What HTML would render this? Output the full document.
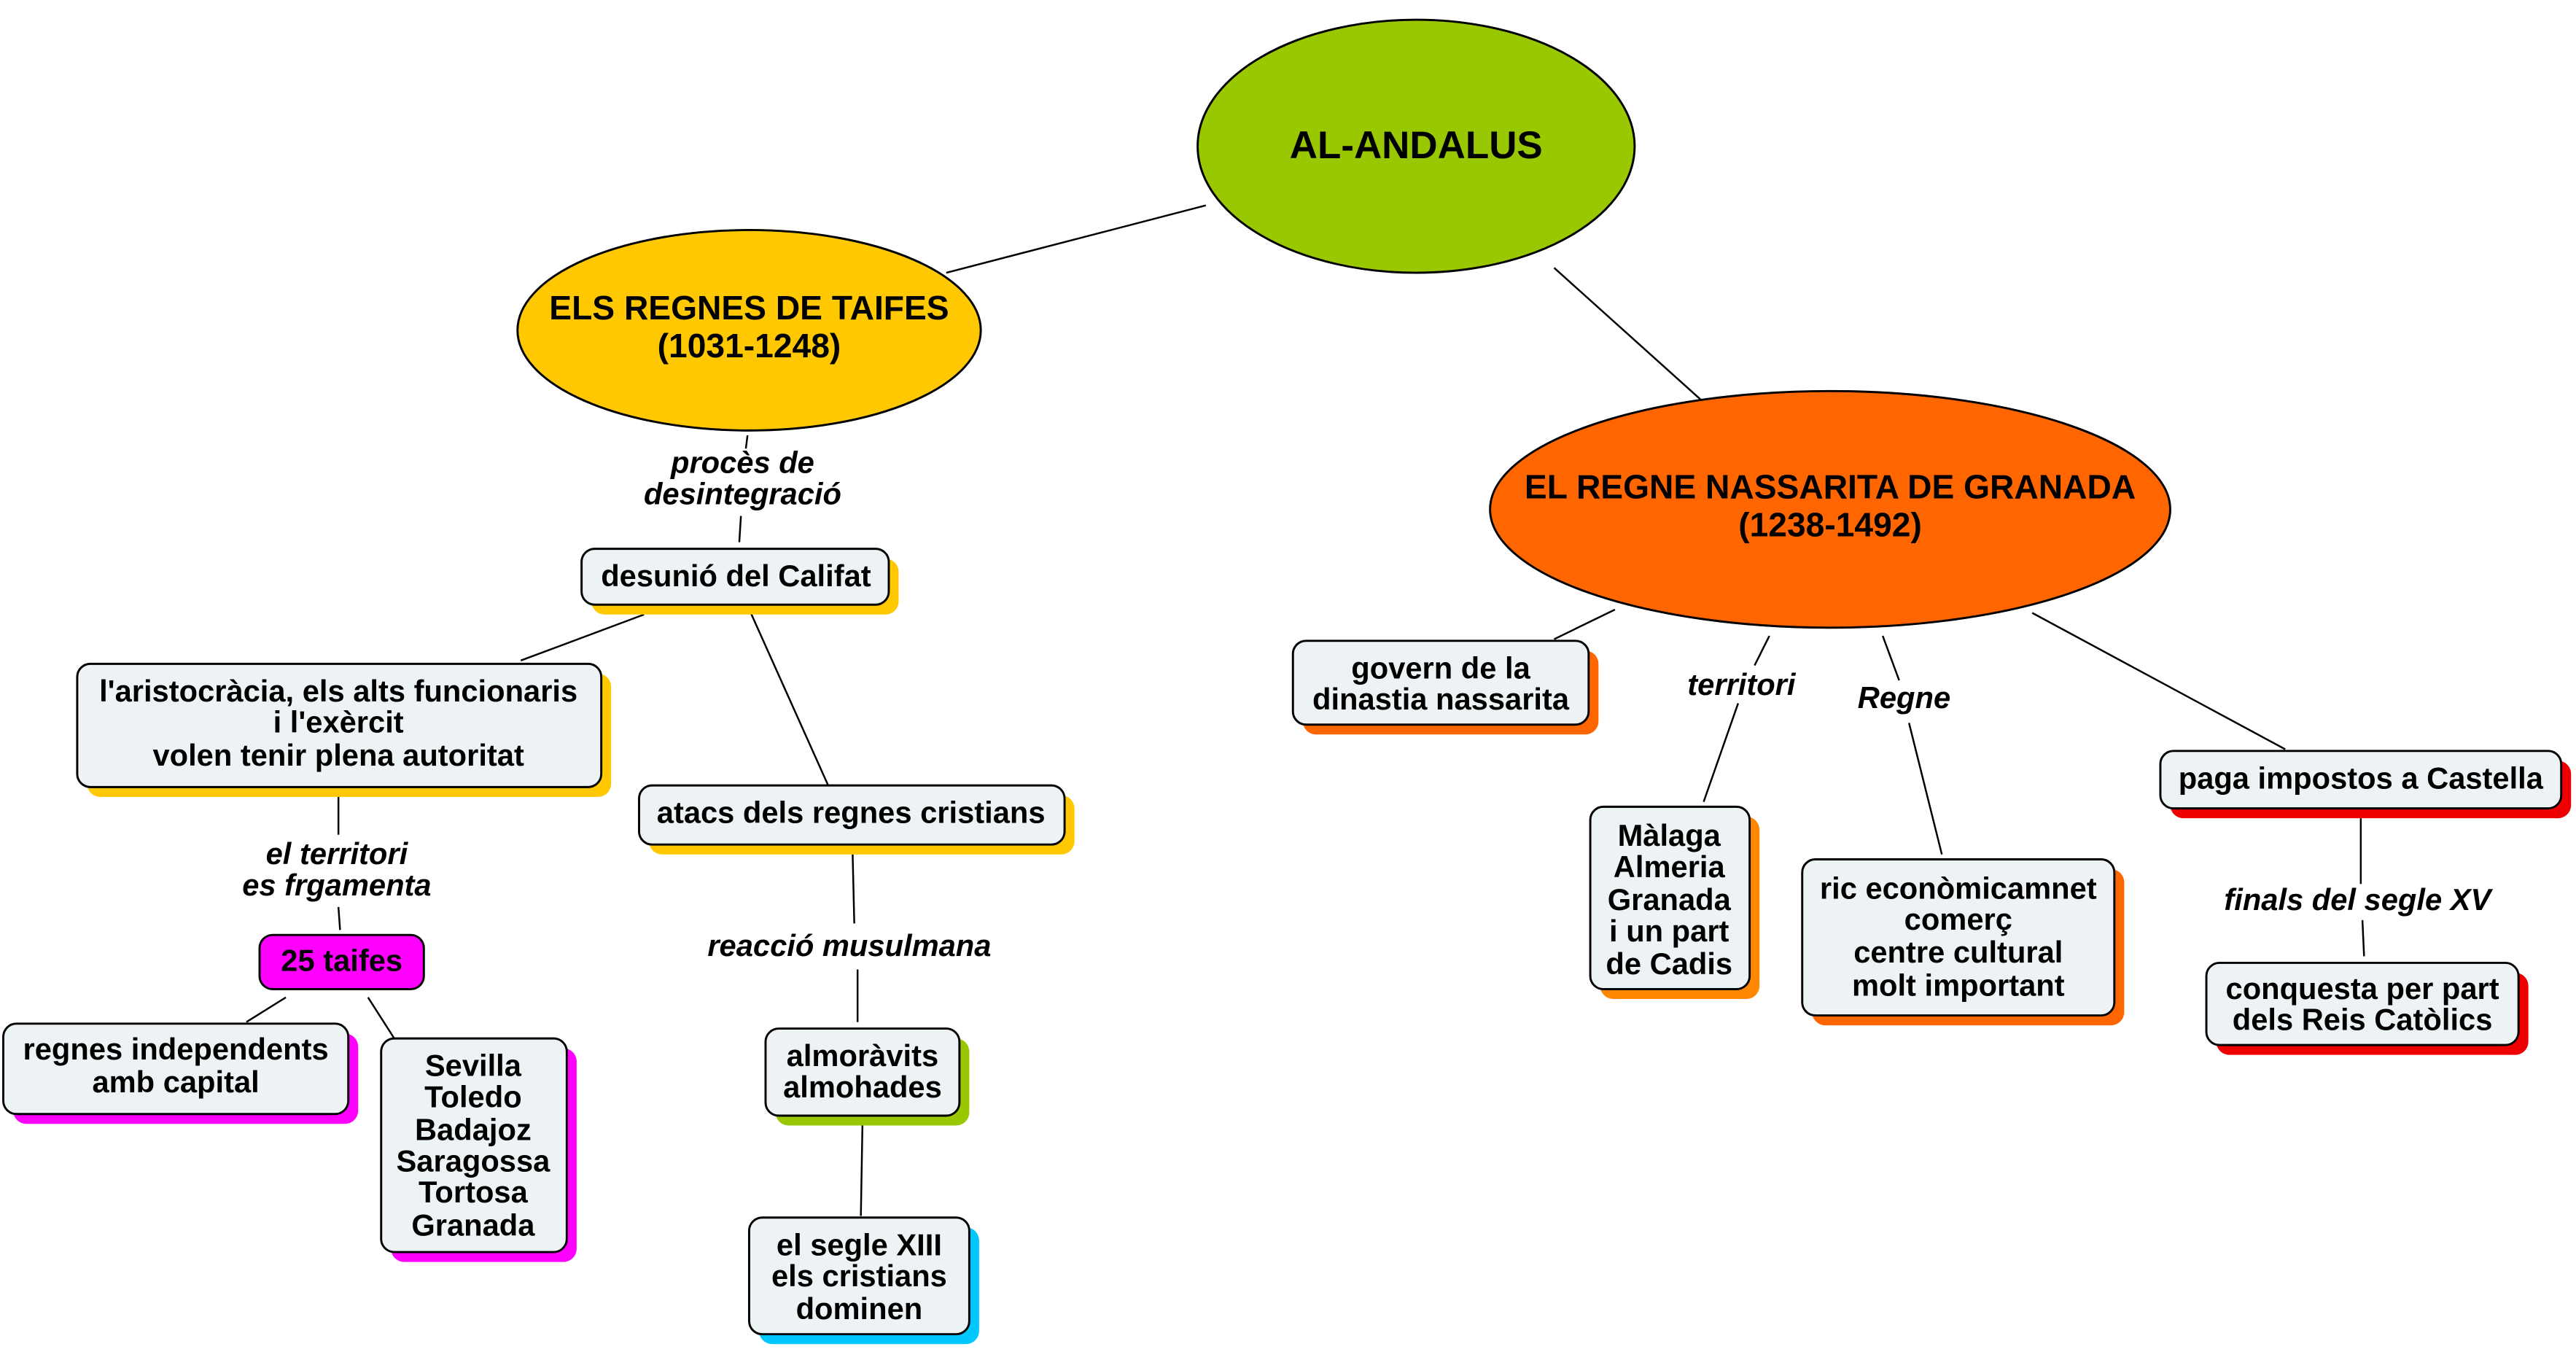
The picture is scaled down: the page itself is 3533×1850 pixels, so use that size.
<!DOCTYPE html>
<html><head><meta charset="utf-8"><style>
html,body{margin:0;padding:0;background:#fff;}
svg{display:block;}
text{font-family:"Liberation Sans","DejaVu Sans",sans-serif;font-weight:bold;text-anchor:middle;dominant-baseline:middle;fill:#000;}
.i{font-style:italic;}
.b{fill:#EDF3F4;stroke:#000;stroke-width:1.3;}
line{stroke:#000;stroke-width:1.1;}
</style></head><body>
<svg width="3533" height="1850" viewBox="0 0 1568 821" preserveAspectRatio="none" xmlns="http://www.w3.org/2000/svg">
<rect width="1568" height="821" fill="#fff"/>
<line x1="576" y1="166" x2="734" y2="125"/>
<line x1="946" y1="163" x2="1035" y2="243"/>
<line x1="455" y1="265" x2="454" y2="273"/>
<line x1="451" y1="314" x2="450" y2="330"/>
<line x1="392" y1="374" x2="317" y2="402"/>
<line x1="457" y1="373" x2="505" y2="480"/>
<line x1="206" y1="485" x2="206" y2="508"/>
<line x1="206" y1="552" x2="207" y2="566"/>
<line x1="174" y1="607" x2="150" y2="622"/>
<line x1="224" y1="607" x2="240" y2="632"/>
<line x1="519" y1="520" x2="520" y2="562"/>
<line x1="522" y1="590" x2="522" y2="622"/>
<line x1="525" y1="683" x2="524" y2="740"/>
<line x1="983" y1="371" x2="946" y2="389"/>
<line x1="1077" y1="387" x2="1068" y2="405"/>
<line x1="1058" y1="428" x2="1037" y2="488"/>
<line x1="1146" y1="387" x2="1156" y2="414"/>
<line x1="1162" y1="440" x2="1182" y2="520"/>
<line x1="1237" y1="373" x2="1391" y2="456"/>
<line x1="1437" y1="498" x2="1437" y2="538"/>
<line x1="1438" y1="560" x2="1439" y2="582"/>
<ellipse cx="862" cy="89" rx="133" ry="77" fill="#99C800" stroke="#000" stroke-width="1.3"/>
<text x="862" y="90" font-size="23.5">AL-ANDALUS</text>
<ellipse cx="456" cy="201" rx="141" ry="61" fill="#FFC800" stroke="#000" stroke-width="1.3"/>
<text x="456" y="189" font-size="20.5">ELS REGNES DE TAIFES</text>
<text x="456" y="212" font-size="20.5">(1031-1248)</text>
<ellipse cx="1114" cy="310" rx="207" ry="72" fill="#FF6600" stroke="#000" stroke-width="1.3"/>
<text x="1114" y="298" font-size="20.5">EL REGNE NASSARITA DE GRANADA</text>
<text x="1114" y="321" font-size="20.5">(1238-1492)</text>
<g font-size="18.5">
<text class="i" x="452" y="283">procès de</text>
<text class="i" x="452" y="302">desintegració</text>
<text class="i" x="205" y="521">el territori</text>
<text class="i" x="205" y="540">es frgamenta</text>
<text class="i" x="517" y="577">reacció musulmana</text>
<text class="i" x="1060" y="418">territori</text>
<text class="i" x="1159" y="426">Regne</text>
<text class="i" x="1435" y="549">finals del segle XV</text>
</g>
<g font-size="18.5">
<rect x="360" y="340" width="187" height="34" rx="8" fill="#FFC800"/>
<rect class="b" x="354" y="334" width="187" height="34" rx="8"/>
<text x="448" y="352">desunió del Califat</text>

<rect x="53" y="410" width="319" height="75" rx="8" fill="#FFC800"/>
<rect class="b" x="47" y="404" width="319" height="75" rx="8"/>
<text x="206" y="422">l'aristocràcia, els alts funcionaris</text>
<text x="206" y="441">i l'exèrcit</text>
<text x="206" y="461">volen tenir plena autoritat</text>

<rect class="b" x="158" y="569" width="100" height="33" rx="8" style="fill:#FF00FF"/>
<text x="208" y="586">25 taifes</text>

<rect x="8" y="629" width="210" height="55" rx="8" fill="#FF00FF"/>
<rect class="b" x="2" y="623" width="210" height="55" rx="8"/>
<text x="107" y="640">regnes independents</text>
<text x="107" y="660">amb capital</text>

<rect x="238" y="638" width="113" height="130" rx="8" fill="#FF00FF"/>
<rect class="b" x="232" y="632" width="113" height="130" rx="8"/>
<text x="288" y="650">Sevilla</text>
<text x="288" y="669">Toledo</text>
<text x="288" y="689">Badajoz</text>
<text x="288" y="708">Saragossa</text>
<text x="288" y="727">Tortosa</text>
<text x="288" y="747">Granada</text>

<rect x="395" y="484" width="259" height="36" rx="8" fill="#FFC800"/>
<rect class="b" x="389" y="478" width="259" height="36" rx="8"/>
<text x="518" y="496">atacs dels regnes cristians</text>

<rect x="472" y="632" width="118" height="53" rx="8" fill="#99C800"/>
<rect class="b" x="466" y="626" width="118" height="53" rx="8"/>
<text x="525" y="644">almoràvits</text>
<text x="525" y="663">almohades</text>

<rect x="462" y="747" width="134" height="71" rx="8" fill="#00C8FF"/>
<rect class="b" x="456" y="741" width="134" height="71" rx="8"/>
<text x="523" y="759">el segle XIII</text>
<text x="523" y="778">els cristians</text>
<text x="523" y="798">dominen</text>

<rect x="793" y="396" width="180" height="51" rx="8" fill="#FF6600"/>
<rect class="b" x="787" y="390" width="180" height="51" rx="8"/>
<text x="877" y="408">govern de la</text>
<text x="877" y="427">dinastia nassarita</text>

<rect x="974" y="497" width="97" height="111" rx="8" fill="#FF8800"/>
<rect class="b" x="968" y="491" width="97" height="111" rx="8"/>
<text x="1016" y="510">Màlaga</text>
<text x="1016" y="529">Almeria</text>
<text x="1016" y="549">Granada</text>
<text x="1016" y="568">i un part</text>
<text x="1016" y="588">de Cadis</text>

<rect x="1103" y="529" width="190" height="95" rx="8" fill="#FF6600"/>
<rect class="b" x="1097" y="523" width="190" height="95" rx="8"/>
<text x="1192" y="542">ric econòmicamnet</text>
<text x="1192" y="561">comerç</text>
<text x="1192" y="581">centre cultural</text>
<text x="1192" y="601">molt important</text>

<rect x="1321" y="463" width="244" height="35" rx="8" fill="#EE0000"/>
<rect class="b" x="1315" y="457" width="244" height="35" rx="8"/>
<text x="1437" y="475">paga impostos a Castella</text>

<rect x="1349" y="592" width="190" height="50" rx="8" fill="#EE0000"/>
<rect class="b" x="1343" y="586" width="190" height="50" rx="8"/>
<text x="1438" y="603">conquesta per part</text>
<text x="1438" y="622">dels Reis Catòlics</text>
</g>
</svg>
</body></html>
